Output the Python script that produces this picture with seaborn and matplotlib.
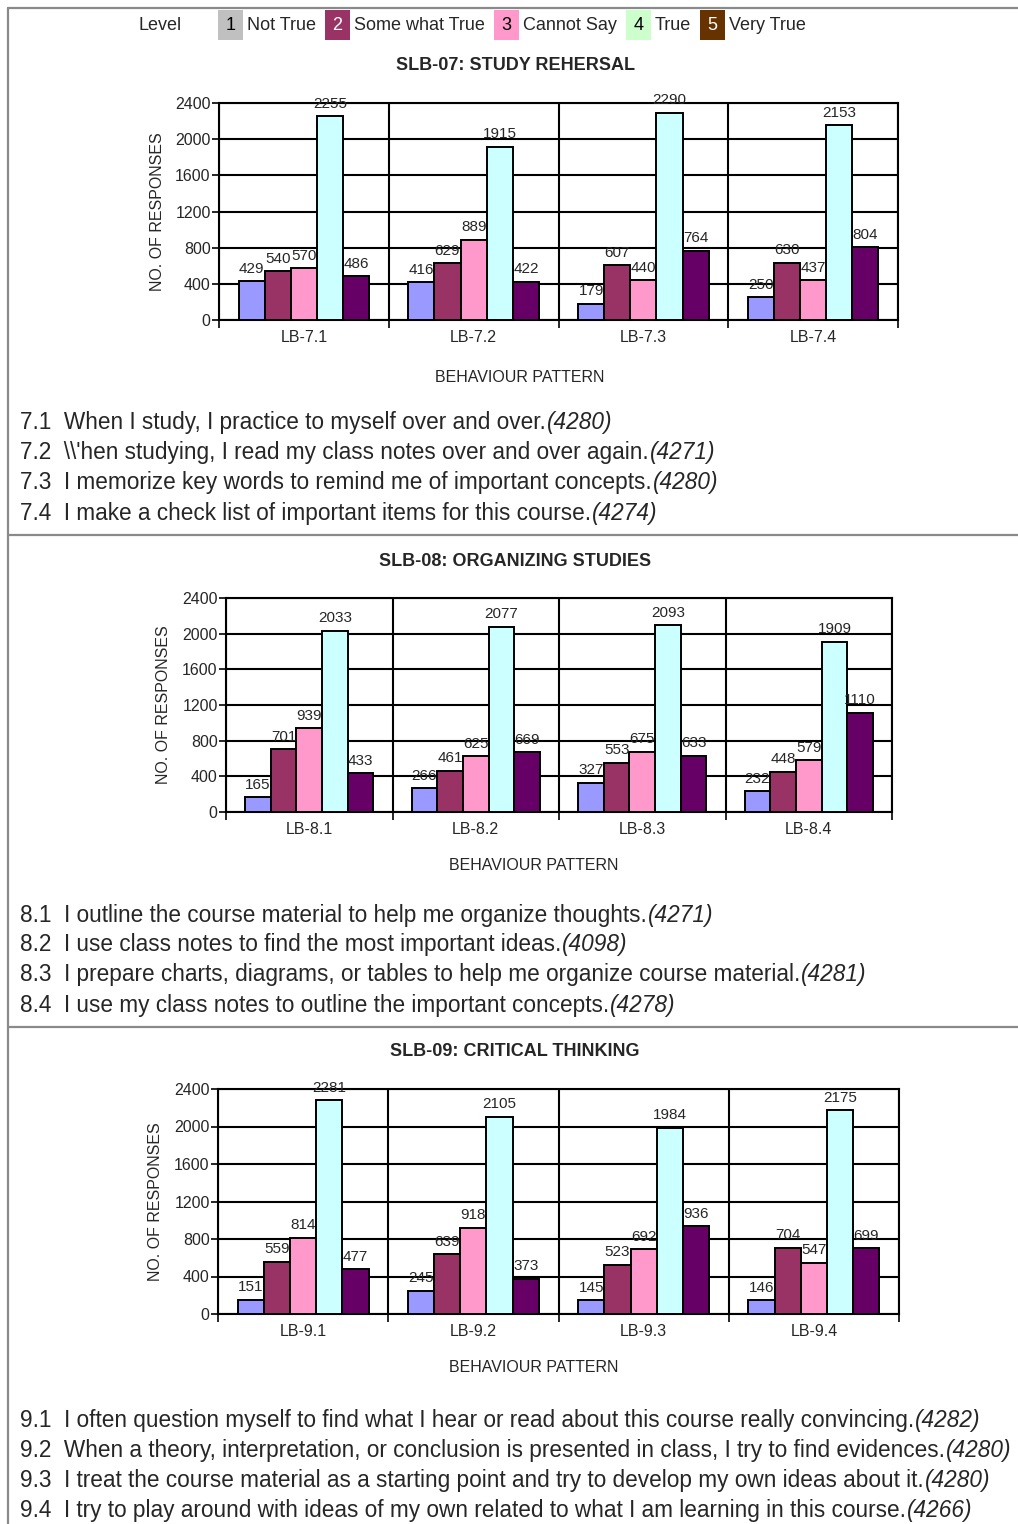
import matplotlib
matplotlib.use("Agg")
import matplotlib.pyplot as plt
from matplotlib.patches import Rectangle
from matplotlib.lines import Line2D
from matplotlib.ticker import FixedLocator, NullFormatter
import numpy as np
import pandas as pd
import seaborn as sns

# ---------------- data ----------------
levels = ["Not True", "Some what True", "Cannot Say", "True", "Very True"]
level_codes = ["1", "2", "3", "4", "5"]

items_07 = ["LB-7.1", "LB-7.2", "LB-7.3", "LB-7.4"]
not_true_07 = [429, 416, 179, 250]
somewhat_07 = [540, 629, 607, 630]
cannot_say_07 = [570, 889, 440, 437]
true_07 = [2255, 1915, 2290, 2153]
very_true_07 = [486, 422, 764, 804]

items_08 = ["LB-8.1", "LB-8.2", "LB-8.3", "LB-8.4"]
not_true_08 = [165, 266, 327, 232]
somewhat_08 = [701, 461, 553, 448]
cannot_say_08 = [939, 625, 675, 579]
true_08 = [2033, 2077, 2093, 1909]
very_true_08 = [433, 669, 633, 1110]

items_09 = ["LB-9.1", "LB-9.2", "LB-9.3", "LB-9.4"]
not_true_09 = [151, 245, 145, 146]
somewhat_09 = [559, 639, 523, 704]
cannot_say_09 = [814, 918, 692, 547]
true_09 = [2281, 2105, 1984, 2175]
very_true_09 = [477, 373, 936, 699]

titles = ["SLB-07: STUDY REHERSAL", "SLB-08: ORGANIZING STUDIES",
          "SLB-09: CRITICAL THINKING"]

statements_07 = [
    ("7.1  When I study, I practice to myself over and over.", "(4280)"),
    ("7.2  \\\\'hen studying, I read my class notes over and over again.", "(4271)"),
    ("7.3  I memorize key words to remind me of important concepts.", "(4280)"),
    ("7.4  I make a check list of important items for this course.", "(4274)"),
]
statements_08 = [
    ("8.1  I outline the course material to help me organize thoughts.", "(4271)"),
    ("8.2  I use class notes to find the most important ideas.", "(4098)"),
    ("8.3  I prepare charts, diagrams, or tables to help me organize course material.", "(4281)"),
    ("8.4  I use my class notes to outline the important concepts.", "(4278)"),
]
statements_09 = [
    ("9.1  I often question myself to find what I hear or read about this course really convincing.", "(4282)"),
    ("9.2  When a theory, interpretation, or conclusion is presented in class, I try to find evidences.", "(4280)"),
    ("9.3  I treat the course material as a starting point and try to develop my own ideas about it.", "(4280)"),
    ("9.4  I try to play around with ideas of my own related to what I am learning in this course.", "(4266)"),
]

# ---------------- style ----------------
bar_colors = ["#9999FF", "#993366", "#FF99CC", "#CCFFFF", "#660066"]
key_colors = ["#C0C0C0", "#993366", "#FF99CC", "#CCFFCC", "#663300"]
key_text_colors = ["black", "white", "black", "black", "white"]

sns.set_style("white")
plt.rcParams["font.family"] = ["Liberation Sans", "DejaVu Sans"]
chart_fs = 11.5
label_fs = 11

W, H = 1018, 1524
fig = plt.figure(figsize=(W / 100, H / 100), dpi=100)
fig.patch.set_facecolor("white")
renderer = fig.canvas.get_renderer()


def fx(x):
    return x / W


def fy(y):
    return 1 - y / H


def ftext(x, y, s, **kw):
    return fig.text(fx(x), fy(y), s, **kw)


def overlaps(a, b, tol=1.5):
    return not (a.x1 - tol <= b.x0 or b.x1 - tol <= a.x0 or
                a.y1 - tol <= b.y0 or b.y1 - tol <= a.y0)


# page frame and section separators
frame_kw = dict(color="#8a8a8a", lw=1.6, transform=fig.transFigure)
fig.add_artist(Line2D([fx(8), 1], [fy(8), fy(8)], **frame_kw))
fig.add_artist(Line2D([fx(8), fx(8)], [fy(8), 0], **frame_kw))
fig.add_artist(Line2D([fx(8), 1], [fy(535), fy(535)], **frame_kw))
fig.add_artist(Line2D([fx(8), 1], [fy(1027), fy(1027)], **frame_kw))

# level key across the top
ftext(160, 25, "Level", fontsize=13, ha="center", va="center")
x = 218
for code, name, fc, tc in zip(level_codes, levels, key_colors, key_text_colors):
    bw = 25
    fig.add_artist(Rectangle((fx(x), fy(40)), bw / W, 30 / H, facecolor=fc,
                             edgecolor="none", transform=fig.transFigure))
    ftext(x + bw / 2, 25, code, fontsize=13, ha="center", va="center", color=tc)
    t = ftext(x + bw + 4, 25, name, fontsize=13, ha="left", va="center")
    x = t.get_window_extent(renderer).x1 + 9

# chart panels: (axes box in pixels: left, top, right, bottom)
panels = [
    dict(box=(219, 103, 898, 320), items=items_07,
         series=[not_true_07, somewhat_07, cannot_say_07, true_07, very_true_07],
         title=titles[0], title_y=66, ylab_x=157, xlab=(520, 377),
         statements=statements_07, st_y=423),
    dict(box=(226, 598, 892, 812), items=items_08,
         series=[not_true_08, somewhat_08, cannot_say_08, true_08, very_true_08],
         title=titles[1], title_y=561, ylab_x=163, xlab=(534, 866),
         statements=statements_08, st_y=915),
    dict(box=(218, 1089, 899, 1314), items=items_09,
         series=[not_true_09, somewhat_09, cannot_say_09, true_09, very_true_09],
         title=titles[2], title_y=1052, ylab_x=155, xlab=(534, 1368),
         statements=statements_09, st_y=1421),
]

for p in panels:
    l, t, r, b = p["box"]
    ax = fig.add_axes([fx(l), fy(b), (r - l) / W, (b - t) / H])

    rows = []
    for lev, vals in zip(levels, p["series"]):
        for item, v in zip(p["items"], vals):
            rows.append(dict(item=item, level=lev, count=v))
    df = pd.DataFrame(rows)

    sns.barplot(data=df, x="item", y="count", hue="level", order=p["items"],
                hue_order=levels, palette=bar_colors, saturation=1,
                width=0.77, edgecolor="black", linewidth=1.4, ax=ax,
                legend=False, zorder=3)

    ax.set_xlim(-0.5, len(p["items"]) - 0.5)
    ax.set_ylim(0, 2400)

    # value labels; a label that would collide with a neighbour is lifted
    base_pad = 4
    label_sets = [ax.bar_label(cont, padding=base_pad, fontsize=label_fs)
                  for cont in ax.containers]
    for g in range(len(p["items"])):
        placed = []
        for labs in label_sets:
            ann = labs[g]
            pad = base_pad
            bb = ann.get_window_extent(renderer)
            while any(overlaps(bb, o) for o in placed):
                pad += 3
                ann.xyann = (0, pad)
                bb = ann.get_window_extent(renderer)
            placed.append(bb)

    ax.set_yticks(np.arange(0, 2401, 400))
    ax.tick_params(axis="y", labelsize=chart_fs, length=5, width=1.4, pad=1,
                   direction="out", left=True)
    ax.tick_params(axis="x", which="major", labelsize=chart_fs, length=0, pad=7)
    ax.xaxis.set_minor_locator(FixedLocator(np.arange(-0.5, len(p["items"]), 1.0)))
    ax.xaxis.set_minor_formatter(NullFormatter())
    ax.tick_params(axis="x", which="minor", length=6, width=1.4,
                   direction="out", bottom=True)
    ax.yaxis.grid(True, color="black", lw=1.5, zorder=0)
    ax.xaxis.grid(True, which="minor", color="black", lw=1.5, zorder=0)
    ax.xaxis.grid(False, which="major")
    ax.set_axisbelow(True)
    for sp in ax.spines.values():
        sp.set_visible(True)
        sp.set_color("black")
        sp.set_linewidth(1.5)

    ax.set_ylabel("NO. OF RESPONSES", fontsize=chart_fs)
    ax.yaxis.set_label_coords((p["ylab_x"] - l) / (r - l), 0.5)
    ax.yaxis.label.set_va("center")
    ax.set_xlabel("BEHAVIOUR PATTERN", fontsize=chart_fs)
    ax.xaxis.set_label_coords((p["xlab"][0] - l) / (r - l),
                              -(p["xlab"][1] - b) / (b - t))
    ax.xaxis.label.set_va("center")

    ftext(515, p["title_y"], p["title"], fontsize=13, fontweight="bold",
          ha="center", va="center")

    # item statements with response totals in italics
    for i, (stmt, total) in enumerate(p["statements"]):
        y = p["st_y"] + 30 * i
        tt = ftext(20, y, stmt, fontsize=16.3, ha="left", va="center")
        x_end = tt.get_window_extent(renderer).x1
        ftext(x_end + 1, y, total, fontsize=16.3, style="italic",
              ha="left", va="center")

fig.savefig("out.png", dpi=100, facecolor="white")
